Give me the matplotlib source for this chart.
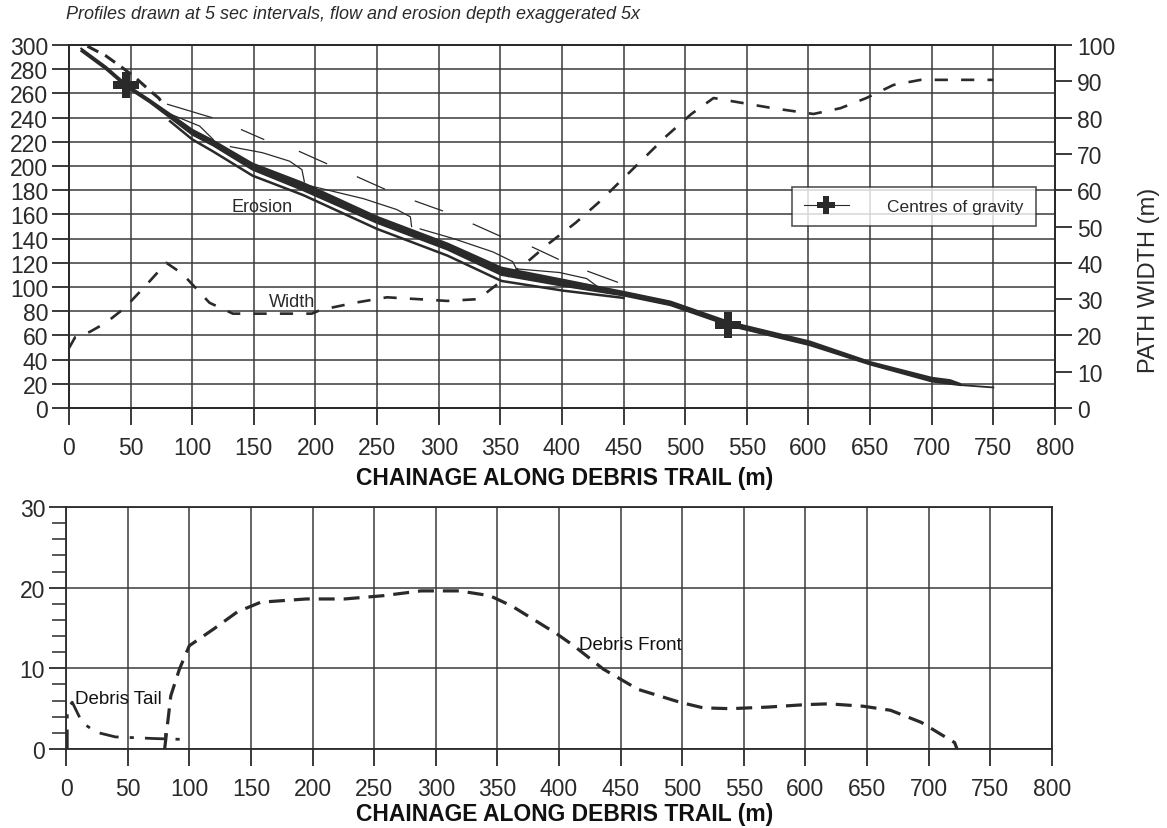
import matplotlib
matplotlib.use("Agg")
import matplotlib.pyplot as plt
from matplotlib.ticker import MultipleLocator
from matplotlib.lines import Line2D

plt.rcParams['font.family'] = ['Liberation Sans', 'DejaVu Sans']

INK = '#2a2a2a'
GRID = '#3a3a3a'

# ---- top chart data (elevation m, chainage m) ----
prof_x = [10, 30, 47, 65, 82, 100, 117, 149, 190, 250, 307, 351, 401, 450, 488, 536, 601, 650, 700, 715, 723]
prof_top = [297, 282, 267, 255, 243, 230, 221, 202, 186, 158, 136, 116, 106, 96, 88, 71, 55, 38, 25, 23, 20]
prof_bot = [295, 280, 265, 253, 240, 226, 217, 197, 180, 153, 131, 110, 101, 93, 85, 68, 52, 36, 22, 20, 19]
tail_x = [723, 750]
tail_y = [19, 17]
eroded_x = [82, 100, 117, 149, 190, 250, 307, 351, 401, 450]
eroded_y = [237, 222, 212, 192, 176, 148, 126, 105, 97, 91]

# first flow profile (dashed, near start)
first_x = [15, 30, 45, 55, 66, 73, 77]
first_y = [299, 291, 280, 272, 262, 256, 250]

# flow profiles with fronts (thin)
fronts = [
    ([82, 106, 117], [243, 233, 222]),
    ([131, 157, 179, 189, 191], [216, 211, 204, 197, 187]),
    ([190, 239, 266, 277, 278], [185, 173, 164, 158, 150]),
    ([285, 312, 344, 360, 363], [148, 140, 129, 121, 115]),
    ([363, 398, 420, 428], [115, 112, 107, 101]),
]
# short flow-surface segments (thin)
segments = [
    ([80, 116], [251, 240]),
    ([140, 158], [230, 222]),
    ([187, 209], [212, 202]),
    ([234, 256], [191, 181]),
    ([281, 303], [171, 163]),
    ([328, 350], [152, 142]),
    ([376, 397], [133, 123]),
    ([421, 445], [113, 104]),
]

cog_x = [46, 535]
cog_y = [267, 69]

width_x = [0, 5, 17, 30, 45, 63, 79, 92, 114, 133, 160, 197, 204, 232, 258, 283, 307,
           332, 351, 371, 390, 411, 431, 449, 467, 485, 505, 523, 547, 571, 604, 626,
           647, 669, 691, 750]
width_v = [16.5, 19.5, 21, 23.5, 27.5, 34, 40, 37, 29, 26, 26, 26, 27, 29, 30.5, 30, 29.5,
           30, 35, 40, 45.5, 51, 57, 63, 69, 75, 81, 85.4, 84, 82.6, 81, 82.6,
           85.4, 89, 90.4, 90.4]

# ---- bottom chart data ----
front_x = [80, 85, 92, 100, 120, 139, 158, 195, 226, 257, 288, 319, 344, 362, 380, 398,
           412, 436, 464, 498, 517, 539, 570, 600, 619, 647, 669, 694, 709, 721, 723]
front_y = [0, 6.6, 9.9, 12.8, 14.9, 17.0, 18.2, 18.6, 18.6, 19.0, 19.6, 19.6, 19.0, 17.7, 16.0, 14.3,
           12.8, 9.9, 7.4, 5.8, 5.1, 5.0, 5.2, 5.5, 5.6, 5.3, 4.8, 3.3, 1.9, 0.8, 0]
taild_x = [1, 1, 5, 13, 24, 40, 56, 71, 93]
taild_y = [0, 5, 5.8, 3.3, 2.1, 1.5, 1.4, 1.3, 1.2]

xticks = list(range(0, 801, 50))

fig = plt.figure(figsize=(11.67, 8.29), dpi=100)
fig.patch.set_facecolor('white')

# ================= top chart =================
ax = fig.add_axes([0.0591, 0.5066, 0.8449, 0.4379])
ax.set_xlim(0, 800)
ax.set_ylim(0, 300)
ax.set_xticks(xticks)
ax.set_yticks(range(0, 301, 20))
ax.grid(True, color=GRID, lw=1.1)
ax.set_axisbelow(True)
ax.tick_params(direction='out', length=12, width=1.3, colors=INK, labelsize=16.5, pad=3)
ax.tick_params(axis='x', pad=8)
for s in ax.spines.values():
    s.set_color(INK)
    s.set_linewidth(1.3)

ax.fill_between(prof_x, prof_bot, prof_top, color=INK, lw=0)
ax.plot(prof_x, prof_top, color=INK, lw=1.5)
ax.plot(prof_x, prof_bot, color=INK, lw=1.5)
ax.plot(tail_x, tail_y, color=INK, lw=1.3)
ax.plot(eroded_x, eroded_y, color=INK, lw=1.8)
ax.plot(first_x, first_y, color=INK, lw=2.2, linestyle=(0, (4, 2.5)))
for fx, fy in fronts:
    ax.plot(fx, fy, color=INK, lw=0.9)
for sx, sy in segments:
    ax.plot(sx, sy, color=INK, lw=0.9)

ax.plot(cog_x, cog_y, linestyle='none', marker='P', markersize=19,
        color=INK, markeredgewidth=0)

ax.text(132, 163, 'Erosion', fontsize=13, color=INK)
ax.text(162, 84, 'Width', fontsize=13, color=INK)

ax2 = ax.twinx()
ax2.set_ylim(0, 100)
ax2.set_yticks(range(0, 101, 10))
ax2.tick_params(direction='out', length=12, width=1.3, colors=INK, labelsize=16.5, pad=4)
ax2.plot(width_x, width_v, color=INK, lw=1.9, linestyle=(0, (5, 5)))
for s in ax2.spines.values():
    s.set_color(INK)
    s.set_linewidth(1.3)
ax2.set_ylabel('PATH WIDTH (m)', fontsize=17, color=INK)
ax2.yaxis.set_label_coords(1.084, 0.355)

leg = ax2.legend([Line2D([], [], color=INK, lw=0.8, marker='P', markersize=13,
                         markeredgewidth=0)],
                 ['Centres of gravity'], loc='upper left',
                 bbox_to_anchor=(0.724, 0.633), fontsize=12.5, frameon=True,
                 fancybox=False, handlelength=2.6, handletextpad=2.2,
                 borderpad=0.7, labelcolor=INK)
leg.get_frame().set_edgecolor(INK)
leg.get_frame().set_linewidth(1.2)

fig.text(0.0565, 0.982, 'Profiles drawn at 5 sec intervals, flow and erosion depth exaggerated 5x',
         fontsize=13, style='italic', color=INK, va='center')
fig.text(0.484, 0.423, 'CHAINAGE ALONG DEBRIS TRAIL (m)', fontsize=16.5, weight='bold',
         color='#111111', ha='center', va='center')

# ================= bottom chart =================
bx = fig.add_axes([0.0566, 0.0953, 0.8448, 0.2919])
bx.set_xlim(0, 800)
bx.set_ylim(0, 30)
bx.set_xticks(xticks)
bx.set_yticks([0, 10, 20, 30])
bx.yaxis.set_minor_locator(MultipleLocator(2))
bx.grid(True, which='major', color=GRID, lw=1.1)
bx.set_axisbelow(True)
bx.tick_params(direction='out', length=12, width=1.3, colors=INK, labelsize=16.5, pad=3)
bx.tick_params(axis='x', pad=8)
bx.tick_params(which='minor', direction='out', length=10, width=1.1, colors=INK)
for s in bx.spines.values():
    s.set_color(INK)
    s.set_linewidth(1.3)

bx.plot(front_x, front_y, color=INK, lw=2.3, linestyle=(0, (5, 2.8)))
bx.plot(taild_x, taild_y, color=INK, lw=2.0, linestyle=(0, (7, 4, 1.5, 4)))
bx.plot([80, 80], [0, 1.9], color=INK, lw=1.2)

bx.text(7, 6.3, 'Debris Tail', fontsize=13.5, color='#111111', va='center')
bx.text(416, 13.0, 'Debris Front', fontsize=13.5, color='#111111', va='center')

fig.text(0.484, 0.017, 'CHAINAGE ALONG DEBRIS TRAIL (m)', fontsize=16.5, weight='bold',
         color='#111111', ha='center', va='center')

fig.savefig('out.png', dpi=100, facecolor='white')
